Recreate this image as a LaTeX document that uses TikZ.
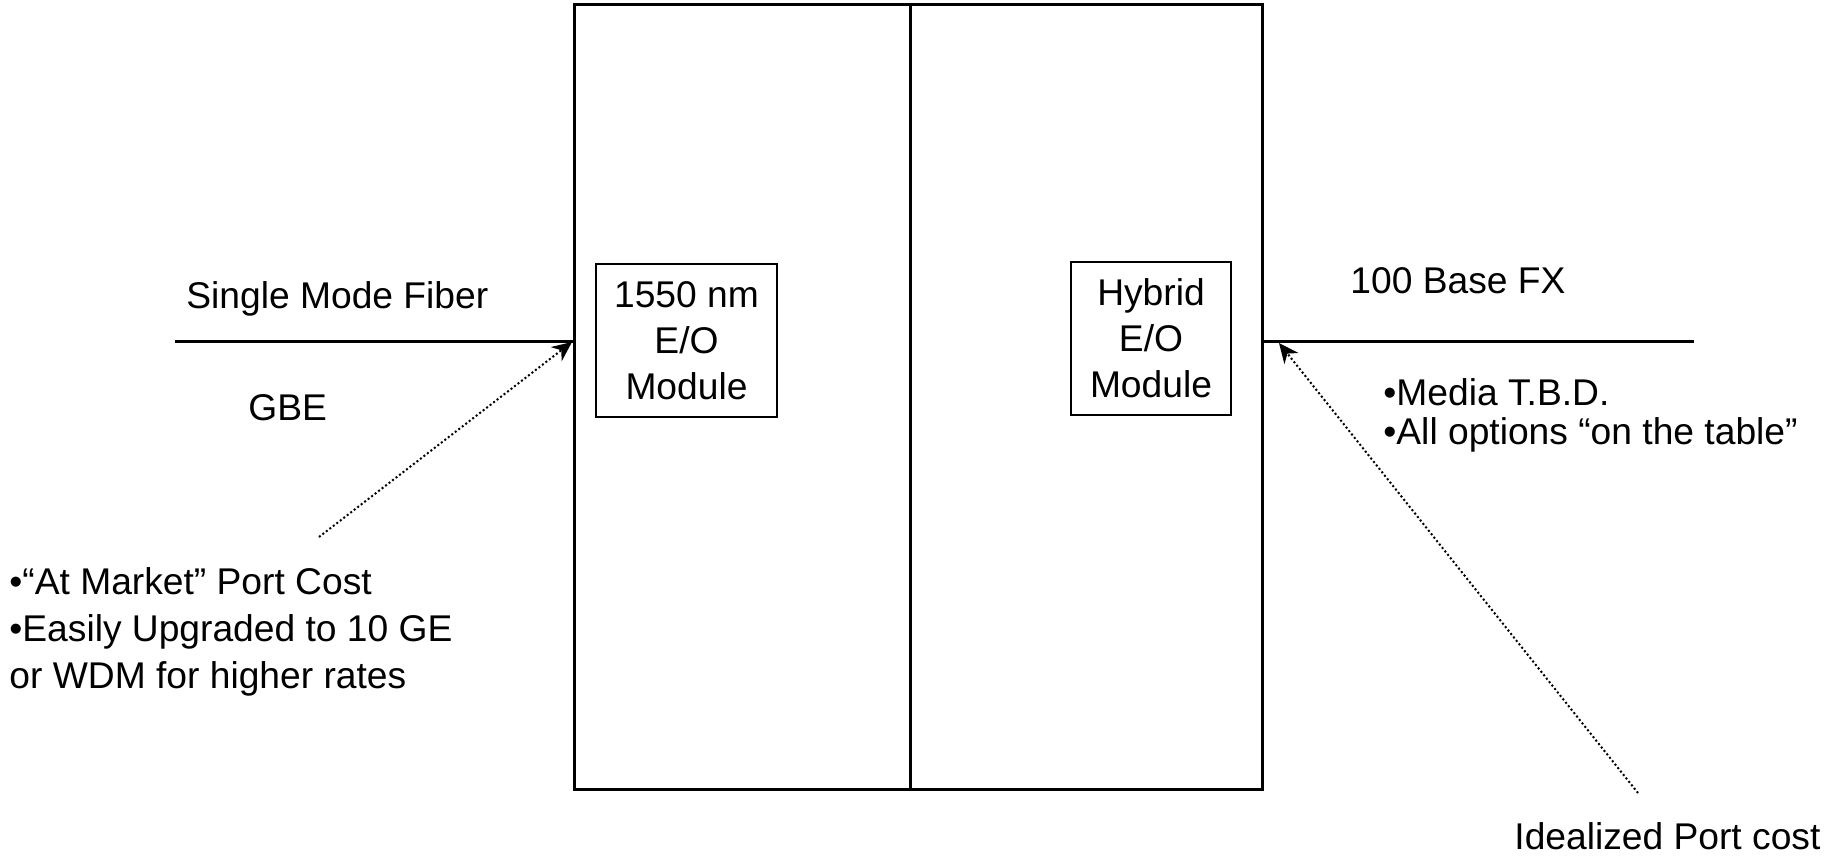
\documentclass[tikz,border=0pt]{standalone}
\usepackage{fontspec}
\setmainfont{Liberation Sans}
\usetikzlibrary{arrows.meta}
\begin{document}
\begin{tikzpicture}[x=0.5pt,y=-0.5pt,
  every node/.style={font=\fontsize{18.6pt}{23pt}\selectfont},
  bigbox/.style={draw,line width=1.5pt,minimum height=392pt,inner sep=0pt},
  modbox/.style={draw,line width=1.2pt,minimum height=76.5pt,inner sep=0pt,align=center},
  lbl/.style={anchor=base west,inner sep=0pt},
  fiber/.style={line width=1.5pt},
  pointer/.style={line width=1pt,dash pattern=on 1pt off 1.2pt,
    -{Stealth[length=10pt,width=9pt,line width=0pt]}}]
\useasboundingbox (0,0) rectangle (1832,856);
\node[bigbox,minimum width=168pt] (bigL) at (742,397) {};
\node[bigbox,minimum width=176.25pt] (bigR) at (1086.25,397) {};
\node[modbox,minimum width=90.5pt] (modA) at (686.5,340.5) {1550 nm\\E/O\\Module};
\node[modbox,minimum width=80pt] (modB) at (1151,338.5) {Hybrid\\E/O\\Module};
\coordinate (fibA) at (175,341);
\coordinate (jL) at (574,341);
\coordinate (jR) at (1262,341);
\coordinate (fibB) at (1694,341);
\coordinate (tipL) at (572,342);
\coordinate (tipR) at (1279,343);
\coordinate (tailL) at (319,537);
\coordinate (tailR) at (1638,793);
\draw[fiber] (fibA) -- (jL);
\draw[fiber] (jR) -- (fibB);
\draw[pointer] (tailL) -- (tipL);
\draw[pointer] (tailR) -- (tipR);
\node[lbl] (smf) at (186,308) {Single Mode Fiber};
\node[lbl] (gbe) at (248,420) {GBE};
\node[lbl] (bfx) at (1350,293) {100 Base FX};
\node[lbl] (med) at (1383,405) {•Media T.B.D.};
\node[lbl] (opt) at (1383,444) {•All options “on the table”};
\node[lbl] (mkt) at (9,594) {•“At Market” Port Cost};
\node[lbl] (upg) at (9,641.5) {•Easily Upgraded to 10 GE};
\node[lbl] (wdm) at (9,688.5) {or WDM for higher rates};
\node[lbl] (ideal) at (1514,849) {Idealized Port cost};
\end{tikzpicture}
\end{document}
